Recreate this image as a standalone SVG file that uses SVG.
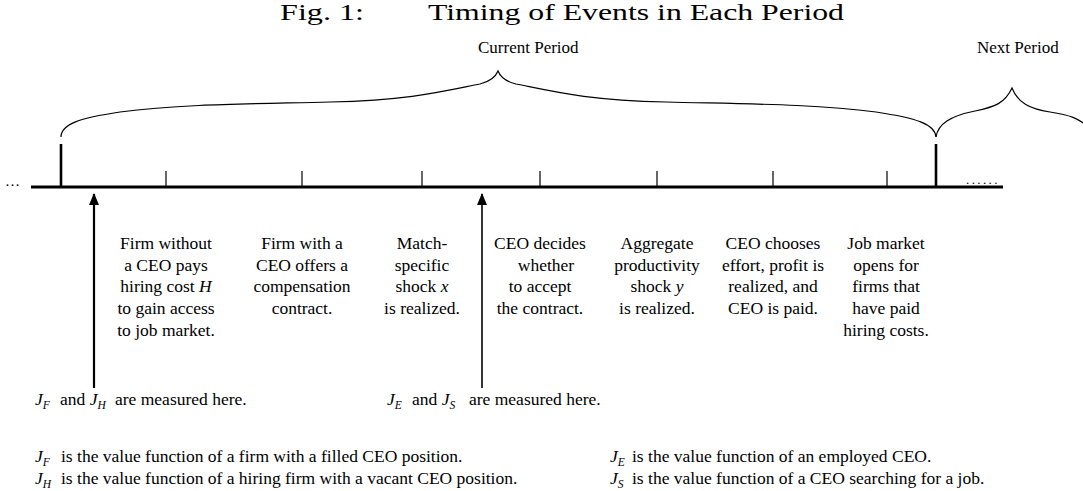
<svg xmlns="http://www.w3.org/2000/svg" width="1083" height="491" viewBox="0 0 1083 491">
<style>
text{font-family:"Liberation Serif","Times New Roman",serif;fill:#000}
.ev{font-size:17.5px;text-anchor:middle}
.lb{font-size:17.5px}
.it{font-style:italic}
.sub{font-style:italic;font-size:11.5px}
.title{font-size:23px}
.tick{stroke:#000;stroke-width:1.2}
.big{stroke:#000;stroke-width:2.6}
.brace{fill:none;stroke:#000;stroke-width:1.2}
.arr{stroke:#000;fill:none}
</style>
<defs>
<marker id="ah" markerWidth="12" markerHeight="10" refX="11" refY="5" orient="auto" markerUnits="userSpaceOnUse" viewBox="0 0 12 10">
<path d="M0,0 L12,5 L0,10 Z" fill="#000"/>
</marker>
</defs>
<rect width="1083" height="491" fill="#fff"/>
<g id="title">
<text class="title" x="280" y="20" textLength="84" lengthAdjust="spacingAndGlyphs">Fig. 1:</text>
<text class="title" x="428" y="20" textLength="416" lengthAdjust="spacingAndGlyphs">Timing of Events in Each Period</text>
</g>
<g id="period-labels">
<text class="lb" x="478" y="53" style="font-size:17px">Current Period</text>
<text class="lb" x="977" y="53" style="font-size:17px">Next Period</text>
</g>
<g id="braces">
<path class="brace" d="M61,137 C61,124 80,118 120,112 C180,104 250,104 330,102 C410,100 440,92 480,84 C492,81 496,76 498,71 C500,76 504,81 516,84 C556,92 586,100 666,102 C746,104 816,104 876,112 C916,118 935,124 936,137"/>
<path class="brace" d="M936,137 C938,124 950,116 975,111 C995,107 1005,103 1012,88 C1018,103 1030,109 1050,112 C1070,115 1078,118 1090,128"/>
</g>
<g id="timeline">
<line x1="31" y1="187" x2="1003" y2="187" stroke="#000" stroke-width="3.2"/>
<line class="big" x1="61" y1="144" x2="61" y2="187"/>
<line class="big" x1="936" y1="144" x2="936" y2="187"/>
<line class="tick" x1="166" y1="171" x2="166" y2="187"/>
<line class="tick" x1="302" y1="171" x2="302" y2="187"/>
<line class="tick" x1="422" y1="171" x2="422" y2="187"/>
<line class="tick" x1="540" y1="171" x2="540" y2="187"/>
<line class="tick" x1="657" y1="171" x2="657" y2="187"/>
<line class="tick" x1="773" y1="171" x2="773" y2="187"/>
<line class="tick" x1="887" y1="171" x2="887" y2="187"/>
<text x="5" y="186" style="font-size:15px">…</text>
<text x="966" y="184" style="font-size:13px" letter-spacing="2.4">......</text>
</g>
<g id="connectors">
<line class="arr" x1="94" y1="388" x2="94" y2="194" stroke-width="2.2" marker-end="url(#ah)"/>
<line class="arr" x1="482" y1="388" x2="482" y2="194" stroke-width="1.6" marker-end="url(#ah)"/>
</g>
<g id="e1"><text class="ev" x="166" y="249"><tspan x="166">Firm without</tspan><tspan x="166" dy="21.7">a CEO pays</tspan><tspan x="166" dy="21.7">hiring cost <tspan class="it">H</tspan></tspan><tspan x="166" dy="21.7">to gain access</tspan><tspan x="166" dy="21.7">to job market.</tspan></text></g>
<g id="e2"><text class="ev" x="302" y="249"><tspan x="302">Firm with a</tspan><tspan x="302" dy="21.7">CEO offers a</tspan><tspan x="302" dy="21.7">compensation</tspan><tspan x="302" dy="21.7">contract.</tspan></text></g>
<g id="e3"><text class="ev" x="422" y="249"><tspan x="422">Match-</tspan><tspan x="422" dy="21.7">specific</tspan><tspan x="422" dy="21.7">shock <tspan class="it">x</tspan></tspan><tspan x="422" dy="21.7">is realized.</tspan></text></g>
<g id="e4"><text class="ev" x="540" y="249"><tspan x="540">CEO decides</tspan><tspan x="546" dy="21.7">whether</tspan><tspan x="540" dy="21.7">to accept</tspan><tspan x="540" dy="21.7">the contract.</tspan></text></g>
<g id="e5"><text class="ev" x="657" y="249"><tspan x="657">Aggregate</tspan><tspan x="657" dy="21.7">productivity</tspan><tspan x="657" dy="21.7">shock <tspan class="it">y</tspan></tspan><tspan x="657" dy="21.7">is realized.</tspan></text></g>
<g id="e6"><text class="ev" x="773" y="249"><tspan x="773">CEO chooses</tspan><tspan x="773" dy="21.7">effort, profit is</tspan><tspan x="773" dy="21.7">realized, and</tspan><tspan x="773" dy="21.7">CEO is paid.</tspan></text></g>
<g id="e7"><text class="ev" x="886" y="249"><tspan x="886">Job market</tspan><tspan x="886" dy="21.7">opens for</tspan><tspan x="886" dy="21.7">firms that</tspan><tspan x="886" dy="21.7">have paid</tspan><tspan x="886" dy="21.7">hiring costs.</tspan></text></g>
<g id="m1"><text class="lb" x="35" y="405"><tspan class="it">J</tspan><tspan class="sub" dy="4">F</tspan><tspan dy="-4" x="60">and </tspan><tspan class="it">J</tspan><tspan class="sub" dy="4">H</tspan><tspan dy="-4" x="115">are measured here.</tspan></text></g>
<g id="m2"><text class="lb" x="387" y="405"><tspan class="it">J</tspan><tspan class="sub" dy="4">E</tspan><tspan dy="-4" x="412">and </tspan><tspan class="it">J</tspan><tspan class="sub" dy="4">S</tspan><tspan dy="-4" x="469">are measured here.</tspan></text></g>
<g id="legend">
<text class="lb" x="35" y="462"><tspan class="it">J</tspan><tspan class="sub" dy="4">F</tspan><tspan dy="-4" x="61">is the value function of a firm with a filled CEO position.</tspan></text>
<text class="lb" x="35" y="484"><tspan class="it">J</tspan><tspan class="sub" dy="4">H</tspan><tspan dy="-4" x="61">is the value function of a hiring firm with a vacant CEO position.</tspan></text>
<text class="lb" x="610" y="462"><tspan class="it">J</tspan><tspan class="sub" dy="4">E</tspan><tspan dy="-4" x="632">is the value function of an employed CEO.</tspan></text>
<text class="lb" x="610" y="484"><tspan class="it">J</tspan><tspan class="sub" dy="4">S</tspan><tspan dy="-4" x="632">is the value function of a CEO searching for a job.</tspan></text>
</g>
</svg>
